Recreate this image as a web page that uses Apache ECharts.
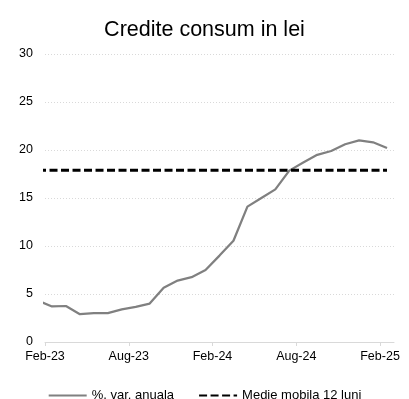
<!DOCTYPE html>
<html>
<head>
<meta charset="utf-8">
<script src="https://cdn.jsdelivr.net/npm/echarts@6/dist/echarts.min.js"></script>
<style>
  html, body { margin: 0; padding: 0; background: #fff; }
  #chart { width: 409px; height: 399px; }
</style>
</head>
<body>
<div id="chart"></div>
<script>
// luni: Jan-23 ... Feb-25 (punctele sunt la mijlocul lunii)
const months = ["Jan-23", "Feb-23", "Mar-23", "Apr-23", "May-23", "Jun-23", "Jul-23", "Aug-23",
  "Sep-23", "Oct-23", "Nov-23", "Dec-23", "Jan-24", "Feb-24", "Mar-24", "Apr-24", "May-24",
  "Jun-24", "Jul-24", "Aug-24", "Sep-24", "Oct-24", "Nov-24", "Dec-24", "Jan-25", "Feb-25"];
const varAnuala = [4.3, 3.7, 3.75, 2.9, 3.0, 3.0, 3.4, 3.65, 4.0, 5.65, 6.4, 6.75, 7.5, 9.0,
  10.55, 14.1, 15.0, 15.9, 17.85, 18.7, 19.5, 19.9, 20.6, 21.0, 20.8, 20.2];
const medieMobila = months.map(() => 17.9);
const tickLabels = ["Feb-23", "Aug-23", "Feb-24", "Aug-24", "Feb-25"];
const tickPos = [0, 6, 12, 18, 24]; // luni de la Feb-23

const font = "Liberation Sans, Arial, sans-serif";
// x: -0.5 = Jan-23, 0.5 = Feb-23 ...
const toPoints = vals => vals.map((v, i) => [i - 0.5, v]);

let chart = echarts.init(document.getElementById("chart"));
chart.setOption({
  animation: false,
  title: {
    text: "Credite consum in lei",
    left: "center",
    top: 14,
    textStyle: { fontFamily: font, fontSize: 21.5, fontWeight: "normal", color: "#000" }
  },
  grid: { left: 45, right: 15, top: 54, bottom: 57 },
  legend: {
    bottom: -3,
    left: "center",
    padding: 0,
    itemWidth: 38,
    itemHeight: 10,
    itemGap: 24,
    itemStyle: { opacity: 0 },
    textStyle: { fontFamily: font, fontSize: 13, color: "#000" },
    data: ["%. var. anuala", "Medie mobila 12 luni"]
  },
  xAxis: {
    type: "value",
    min: 0,
    max: 25,
    splitLine: { show: false },
    axisLine: { show: true, lineStyle: { color: "#d9d9d9", width: 1 } },
    axisTick: { show: true, length: 4, customValues: tickPos, lineStyle: { color: "#d9d9d9" } },
    axisLabel: {
      customValues: tickPos,
      margin: 8,
      fontFamily: font,
      fontSize: 12.5,
      color: "#000",
      formatter: v => tickLabels[tickPos.indexOf(v)] || ""
    }
  },
  yAxis: {
    type: "value",
    min: 0,
    max: 30,
    interval: 5,
    axisLine: { show: false },
    axisTick: { show: false },
    axisLabel: { margin: 12, fontFamily: font, fontSize: 12.5, color: "#000" },
    splitLine: { lineStyle: { color: "#d9d9d9", type: [1, 2], width: 1 } }
  },
  series: [
    {
      name: "%. var. anuala",
      type: "line",
      data: toPoints(varAnuala),
      symbol: "none",
      clip: true,
      lineStyle: { color: "#808080", width: 2.25 },
      itemStyle: { color: "#808080" }
    },
    {
      name: "Medie mobila 12 luni",
      type: "line",
      data: toPoints(medieMobila),
      symbol: "none",
      clip: true,
      z: 3,
      lineStyle: { color: "#000", width: 3, type: [8, 3.5] },
      itemStyle: { color: "#000" }
    }
  ]
});
</script>
</body>
</html>
